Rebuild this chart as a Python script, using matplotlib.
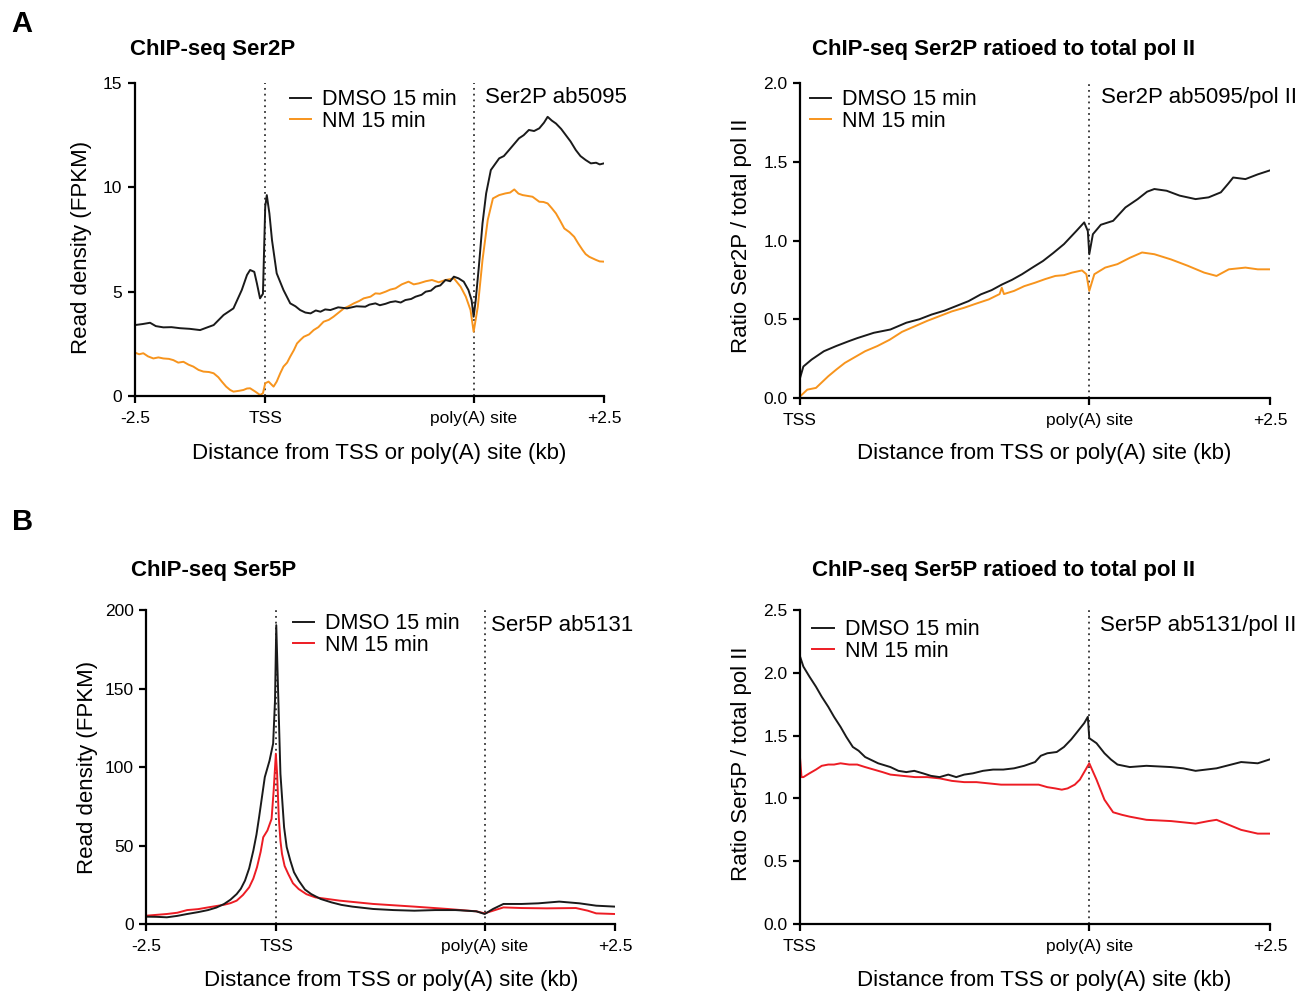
import numpy as np
import matplotlib
matplotlib.use("Agg")
import matplotlib.pyplot as plt

plt.rcParams['font.family'] = ['Liberation Sans', 'DejaVu Sans']

# x positions: upstream -2.5..0 (TSS), gene body scaled 0..4 (poly(A) site), downstream 4..6.5
TSS = 0.0
PAS = 4.0

# ---- A: Ser2P read density ----
ser2_dmso = [(-2.5, 3.40), (-2.35, 3.45), (-2.21, 3.51), (-2.1, 3.35), (-1.955, 3.29),
             (-1.8, 3.3), (-1.635, 3.25), (-1.45, 3.22), (-1.25, 3.16), (-1.1, 3.3),
             (-0.99, 3.40), (-0.80, 3.88), (-0.61, 4.2), (-0.45, 5.08), (-0.35, 5.8),
             (-0.29, 6.04), (-0.21, 5.95), (-0.16, 5.4), (-0.10, 4.68), (-0.044, 4.9),
             (0.0, 9.07), (0.03, 9.63), (0.08, 8.75), (0.13, 7.47), (0.22, 5.88),
             (0.35, 5.08), (0.48, 4.44), (0.58, 4.3), (0.67, 4.12), (0.77, 4.0),
             (0.87, 3.96), (0.97, 4.1), (1.06, 4.04), (1.15, 4.15), (1.25, 4.12),
             (1.4, 4.25), (1.57, 4.2), (1.75, 4.3), (1.92, 4.28), (2.0, 4.38),
             (2.115, 4.44), (2.2, 4.35), (2.31, 4.42), (2.4, 4.5), (2.5, 4.54),
             (2.6, 4.48), (2.69, 4.6), (2.8, 4.65), (2.885, 4.76), (3.0, 4.85),
             (3.08, 5.0), (3.18, 5.05), (3.27, 5.24), (3.36, 5.3), (3.46, 5.56),
             (3.55, 5.5), (3.62, 5.72), (3.71, 5.64), (3.81, 5.48), (3.9, 5.08),
             (3.96, 4.6), (4.0, 3.8), (4.04, 4.6), (4.1, 6.2), (4.17, 8.27), (4.24, 9.71),
             (4.33, 10.83), (4.49, 11.39), (4.58, 11.5), (4.68, 11.79), (4.87, 12.35),
             (4.96, 12.5), (5.06, 12.75), (5.16, 12.7), (5.26, 12.83), (5.35, 13.1),
             (5.42, 13.38), (5.5, 13.2), (5.58, 13.06), (5.68, 12.8), (5.77, 12.5),
             (5.86, 12.2), (5.96, 11.79), (6.05, 11.5), (6.15, 11.31), (6.25, 11.15),
             (6.35, 11.18), (6.42, 11.1), (6.5, 11.15)]
ser2_nm = [(-2.5, 2.08), (-2.42, 2.0), (-2.34, 2.05), (-2.25, 1.9), (-2.147, 1.8),
           (-2.05, 1.85), (-1.955, 1.8), (-1.85, 1.78), (-1.763, 1.72), (-1.67, 1.6),
           (-1.57, 1.64), (-1.47, 1.5), (-1.38, 1.41), (-1.28, 1.25), (-1.186, 1.17),
           (-1.08, 1.15), (-0.99, 1.09), (-0.9, 0.9), (-0.833, 0.69), (-0.75, 0.45),
           (-0.673, 0.29), (-0.61, 0.21), (-0.5, 0.25), (-0.417, 0.29), (-0.35, 0.36),
           (-0.29, 0.37), (-0.19, 0.21), (-0.10, 0.05), (-0.044, 0.13), (0.0, 0.61),
           (0.064, 0.69), (0.16, 0.45), (0.22, 0.69), (0.29, 1.1), (0.35, 1.41),
           (0.42, 1.6), (0.48, 1.89), (0.55, 2.2), (0.61, 2.52), (0.68, 2.7),
           (0.74, 2.84), (0.84, 2.95), (0.93, 3.16), (1.02, 3.3), (1.12, 3.56),
           (1.22, 3.65), (1.31, 3.8), (1.41, 4.0), (1.51, 4.2), (1.60, 4.3),
           (1.70, 4.44), (1.80, 4.55), (1.89, 4.68), (2.02, 4.76), (2.115, 4.92),
           (2.2, 4.9), (2.31, 5.0), (2.4, 5.1), (2.5, 5.16), (2.62, 5.35), (2.75, 5.48),
           (2.85, 5.35), (2.95, 5.4), (3.08, 5.5), (3.2, 5.56), (3.33, 5.45), (3.46, 5.56),
           (3.55, 5.6), (3.62, 5.64), (3.75, 5.24), (3.85, 4.76), (3.94, 4.12), (4.0, 3.08),
           (4.08, 4.28), (4.17, 6.52), (4.27, 8.43), (4.37, 9.47), (4.49, 9.63),
           (4.61, 9.71), (4.7, 9.75), (4.78, 9.9), (4.86, 9.7), (4.94, 9.63), (5.13, 9.55),
           (5.26, 9.31), (5.34, 9.3), (5.42, 9.23), (5.5, 9.0), (5.58, 8.75), (5.66, 8.4),
           (5.74, 8.03), (5.84, 7.85), (5.93, 7.63), (6.01, 7.3), (6.09, 7.0), (6.15, 6.8),
           (6.22, 6.67), (6.35, 6.52), (6.42, 6.45), (6.5, 6.44)]

# ---- A: Ser2P / total pol II ----
ser2r_dmso = [(0.0, 0.127), (0.046, 0.20), (0.16, 0.244), (0.33, 0.297), (0.50, 0.33),
              (0.67, 0.36), (0.79, 0.38), (1.02, 0.414), (1.25, 0.435), (1.47, 0.478),
              (1.65, 0.5), (1.82, 0.53), (2.0, 0.555), (2.16, 0.584), (2.33, 0.615),
              (2.50, 0.658), (2.65, 0.685), (2.79, 0.72), (2.93, 0.75), (3.07, 0.786),
              (3.22, 0.83), (3.36, 0.87), (3.5, 0.92), (3.65, 0.977), (3.82, 1.06),
              (3.93, 1.115), (3.98, 1.06), (4.0, 0.913), (4.05, 1.04), (4.16, 1.10),
              (4.33, 1.125), (4.42, 1.17), (4.50, 1.21), (4.67, 1.263), (4.80, 1.31),
              (4.90, 1.327), (5.07, 1.316), (5.25, 1.285), (5.47, 1.263), (5.65, 1.274),
              (5.82, 1.306), (5.92, 1.36), (5.99, 1.40), (6.16, 1.39), (6.33, 1.42),
              (6.49, 1.444)]
ser2r_nm = [(0.0, 0.01), (0.10, 0.053), (0.22, 0.064), (0.39, 0.138), (0.5, 0.18),
            (0.62, 0.223), (0.76, 0.26), (0.90, 0.297), (1.07, 0.33), (1.24, 0.37),
            (1.41, 0.42), (1.59, 0.456), (1.76, 0.49), (1.93, 0.52), (2.10, 0.55),
            (2.27, 0.573), (2.44, 0.60), (2.61, 0.626), (2.76, 0.66), (2.79, 0.70),
            (2.82, 0.66), (2.96, 0.68), (3.1, 0.71), (3.25, 0.732), (3.39, 0.755),
            (3.53, 0.775), (3.65, 0.78), (3.76, 0.796), (3.90, 0.81), (3.96, 0.786),
            (4.0, 0.68), (4.07, 0.786), (4.22, 0.828), (4.39, 0.85), (4.56, 0.89),
            (4.73, 0.924), (4.90, 0.913), (5.13, 0.88), (5.36, 0.84), (5.59, 0.796),
            (5.76, 0.775), (5.93, 0.817), (6.16, 0.828), (6.33, 0.817), (6.49, 0.817)]

# ---- B: Ser5P read density ----
ser5_dmso = [(-2.5, 4.7), (-2.3, 4.6), (-2.1, 4.3), (-1.9, 5.2), (-1.71, 6.4),
             (-1.5, 7.6), (-1.31, 8.9), (-1.15, 10.5), (-1.0, 12.8), (-0.88, 15.5),
             (-0.76, 19.1), (-0.68, 22.5), (-0.60, 27.7), (-0.52, 35.5), (-0.44, 46.8),
             (-0.38, 57), (-0.33, 68), (-0.27, 82), (-0.22, 93.6), (-0.13, 104),
             (-0.06, 115), (-0.024, 142.6), (0.0, 190.4), (0.04, 142.6), (0.08, 95.7),
             (0.15, 61.7), (0.2, 49), (0.27, 40.4), (0.34, 33), (0.43, 27.7),
             (0.55, 22), (0.67, 19.1), (0.85, 16), (1.06, 13.8), (1.25, 12.2),
             (1.46, 11.1), (1.86, 9.6), (2.25, 8.9), (2.65, 8.5), (3.05, 8.9),
             (3.44, 8.9), (3.84, 8.1), (4.0, 6.4), (4.16, 9.6), (4.36, 12.8),
             (4.71, 12.8), (5.03, 13.2), (5.43, 14.3), (5.82, 13.2), (6.14, 11.7),
             (6.5, 11.1)]
ser5_nm = [(-2.5, 5.3), (-2.1, 6.4), (-1.9, 7.2), (-1.71, 8.9), (-1.5, 9.5),
           (-1.31, 10.6), (-1.0, 12.3), (-0.88, 13.3), (-0.76, 14.9), (-0.64, 18.5),
           (-0.52, 23.4), (-0.44, 29), (-0.37, 36.2), (-0.3, 46), (-0.25, 55.3),
           (-0.17, 59.6), (-0.09, 67), (-0.05, 85), (-0.008, 108.5), (0.016, 95.7),
           (0.048, 68), (0.08, 53), (0.11, 44.7), (0.16, 37), (0.23, 31.9), (0.32, 26),
           (0.43, 22.3), (0.58, 19), (0.75, 17), (1.22, 14.9), (1.86, 12.8), (2.65, 11.1),
           (3.29, 9.6), (3.84, 8.1), (4.0, 6.8), (4.16, 8.5), (4.36, 10.6), (4.71, 10.2),
           (5.19, 10.0), (5.75, 10.2), (5.98, 8.5), (6.14, 6.8), (6.5, 6.4)]

# ---- B: Ser5P / total pol II ----
ser5r_dmso = [(0.0, 2.13), (0.046, 2.05), (0.13, 1.97), (0.22, 1.89), (0.3, 1.81),
              (0.39, 1.73), (0.47, 1.65), (0.56, 1.57), (0.64, 1.49), (0.73, 1.41),
              (0.81, 1.38), (0.90, 1.33), (1.08, 1.28), (1.25, 1.25), (1.36, 1.22),
              (1.47, 1.21), (1.58, 1.22), (1.70, 1.20), (1.81, 1.18), (1.93, 1.17),
              (2.05, 1.19), (2.16, 1.17), (2.27, 1.19), (2.39, 1.20), (2.53, 1.22),
              (2.67, 1.23), (2.81, 1.23), (2.96, 1.24), (3.1, 1.26), (3.25, 1.29),
              (3.33, 1.34), (3.42, 1.36), (3.55, 1.37), (3.65, 1.41), (3.75, 1.47),
              (3.82, 1.52), (3.93, 1.60), (3.98, 1.65), (4.0, 1.48), (4.10, 1.44),
              (4.21, 1.36), (4.3, 1.31), (4.39, 1.27), (4.56, 1.25), (4.79, 1.26),
              (5.13, 1.25), (5.3, 1.24), (5.47, 1.22), (5.76, 1.24), (6.10, 1.29),
              (6.33, 1.28), (6.49, 1.31)]
ser5r_nm = [(0.0, 1.32), (0.02, 1.17), (0.046, 1.17), (0.13, 1.2), (0.22, 1.23),
            (0.3, 1.26), (0.39, 1.27), (0.47, 1.27), (0.56, 1.28), (0.68, 1.27),
            (0.79, 1.27), (0.9, 1.25), (1.02, 1.23), (1.14, 1.21), (1.25, 1.19),
            (1.42, 1.18), (1.59, 1.17), (1.76, 1.17), (1.93, 1.16), (2.1, 1.14),
            (2.27, 1.13), (2.44, 1.13), (2.61, 1.12), (2.78, 1.11), (2.96, 1.11),
            (3.13, 1.11), (3.30, 1.11), (3.42, 1.09), (3.53, 1.08), (3.62, 1.07),
            (3.70, 1.08), (3.80, 1.11), (3.87, 1.15), (4.0, 1.28), (4.10, 1.15),
            (4.21, 0.99), (4.33, 0.89), (4.45, 0.87), (4.56, 0.855), (4.79, 0.83),
            (5.13, 0.82), (5.47, 0.80), (5.65, 0.82), (5.76, 0.83), (5.93, 0.79),
            (6.10, 0.75), (6.33, 0.72), (6.49, 0.72)]

BLACK = '#1a1a1a'
ORANGE = '#F7941D'
RED = '#ED1C24'

fig = plt.figure(figsize=(12.99, 9.92), dpi=100)


def style(ax, xlim, xticks, xlabels, ylim, yticks, ylabels):
    ax.set_xlim(*xlim)
    ax.set_ylim(*ylim)
    for s in ['top', 'right']:
        ax.spines[s].set_visible(False)
    for s in ['left', 'bottom']:
        ax.spines[s].set_linewidth(1.6)
    ax.set_xticks(xticks)
    ax.set_xticklabels(xlabels)
    ax.set_yticks(yticks)
    ax.set_yticklabels(ylabels)
    ax.tick_params(direction='out', length=5, width=1.6, labelsize=12.5)
    ax.tick_params(axis='x', pad=6)
    ax.tick_params(axis='y', pad=4)


def curve(ax, pts, color):
    a = np.array(pts)
    ax.plot(a[:, 0], a[:, 1], color=color, lw=1.4, solid_joinstyle='round')


def legend(ax, x0, y0, c2):
    h1, = ax.plot([], [], color=BLACK, lw=1.4)
    h2, = ax.plot([], [], color=c2, lw=1.4)
    ax.legend([h1, h2], ['DMSO 15 min', 'NM 15 min'], loc='upper left',
              bbox_to_anchor=(x0, y0), frameon=False, fontsize=15.5,
              handlelength=1.0, handletextpad=0.5, labelspacing=0.02,
              borderpad=0, borderaxespad=0)


dot = dict(color='#333333', ls=(0, (1, 2.2)), lw=1.3, zorder=1)
FS = 16

# A left
ax1 = fig.add_axes([0.1039, 0.6008, 0.361, 0.3155])
ax1.axvline(TSS, **dot)
ax1.axvline(PAS, **dot)
curve(ax1, ser2_nm, ORANGE)
curve(ax1, ser2_dmso, BLACK)
style(ax1, (-2.5, 6.5), [-2.5, TSS, PAS, 6.5], ['-2.5', 'TSS', 'poly(A) site', '+2.5'],
      (0, 15), [0, 5, 10, 15], ['0', '5', '10', '15'])
legend(ax1, 0.33, 0.98, ORANGE)
ax1.text(0.746, 0.955, 'Ser2P ab5095', transform=ax1.transAxes, fontsize=FS, va='center')

# A right
ax2 = fig.add_axes([0.6159, 0.5988, 0.3618, 0.3175])
ax2.axvline(PAS, **dot)
curve(ax2, ser2r_nm, ORANGE)
curve(ax2, ser2r_dmso, BLACK)
style(ax2, (0, 6.5), [TSS, PAS, 6.5], ['TSS', 'poly(A) site', '+2.5'],
      (0, 2.0), [0, 0.5, 1.0, 1.5, 2.0], ['0.0', '0.5', '1.0', '1.5', '2.0'])
legend(ax2, 0.021, 0.98, ORANGE)
ax2.text(0.64, 0.955, 'Ser2P ab5095/pol II', transform=ax2.transAxes, fontsize=FS,
         va='center', clip_on=False)

# B left
ax3 = fig.add_axes([0.1124, 0.0685, 0.361, 0.3165])
ax3.axvline(TSS, **dot)
ax3.axvline(PAS, **dot)
curve(ax3, ser5_nm, RED)
curve(ax3, ser5_dmso, BLACK)
style(ax3, (-2.5, 6.5), [-2.5, TSS, PAS, 6.5], ['-2.5', 'TSS', 'poly(A) site', '+2.5'],
      (0, 200), [0, 50, 100, 150, 200], ['0', '50', '100', '150', '200'])
legend(ax3, 0.313, 0.99, RED)
ax3.text(0.735, 0.952, 'Ser5P ab5131', transform=ax3.transAxes, fontsize=FS, va='center')

# B right
ax4 = fig.add_axes([0.6159, 0.0685, 0.3618, 0.3165])
ax4.axvline(PAS, **dot)
curve(ax4, ser5r_nm, RED)
curve(ax4, ser5r_dmso, BLACK)
style(ax4, (0, 6.5), [TSS, PAS, 6.5], ['TSS', 'poly(A) site', '+2.5'],
      (0, 2.5), [0, 0.5, 1.0, 1.5, 2.0, 2.5], ['0.0', '0.5', '1.0', '1.5', '2.0', '2.5'])
legend(ax4, 0.026, 0.97, RED)
ax4.text(0.638, 0.952, 'Ser5P ab5131/pol II', transform=ax4.transAxes, fontsize=FS,
         va='center', clip_on=False)

# titles, axis labels, panel letters
xl = 'Distance from TSS or poly(A) site (kb)'
fig.text(0.100, 0.950, 'ChIP-seq Ser2P', fontsize=FS, fontweight='bold', va='center')
fig.text(0.625, 0.950, 'ChIP-seq Ser2P ratioed to total pol II', fontsize=FS,
         fontweight='bold', va='center')
fig.text(0.101, 0.4244, 'ChIP-seq Ser5P', fontsize=FS, fontweight='bold', va='center')
fig.text(0.625, 0.4244, 'ChIP-seq Ser5P ratioed to total pol II', fontsize=FS,
         fontweight='bold', va='center')

fig.text(0.292, 0.543, xl, fontsize=FS, ha='center', va='center')
fig.text(0.804, 0.543, xl, fontsize=FS, ha='center', va='center')
fig.text(0.301, 0.012, xl, fontsize=FS, ha='center', va='center')
fig.text(0.804, 0.012, xl, fontsize=FS, ha='center', va='center')

fig.text(0.063, 0.751, 'Read density (FPKM)', fontsize=FS, rotation=90, ha='center', va='center')
fig.text(0.571, 0.762, 'Ratio Ser2P / total pol II', fontsize=FS, rotation=90,
         ha='center', va='center')
fig.text(0.067, 0.226, 'Read density (FPKM)', fontsize=FS, rotation=90, ha='center', va='center')
fig.text(0.571, 0.230, 'Ratio Ser5P / total pol II', fontsize=FS, rotation=90,
         ha='center', va='center')

fig.text(0.009, 0.990, 'A', fontsize=21, fontweight='bold', va='top')
fig.text(0.009, 0.488, 'B', fontsize=21, fontweight='bold', va='top')

fig.savefig('out.png', dpi=100)
